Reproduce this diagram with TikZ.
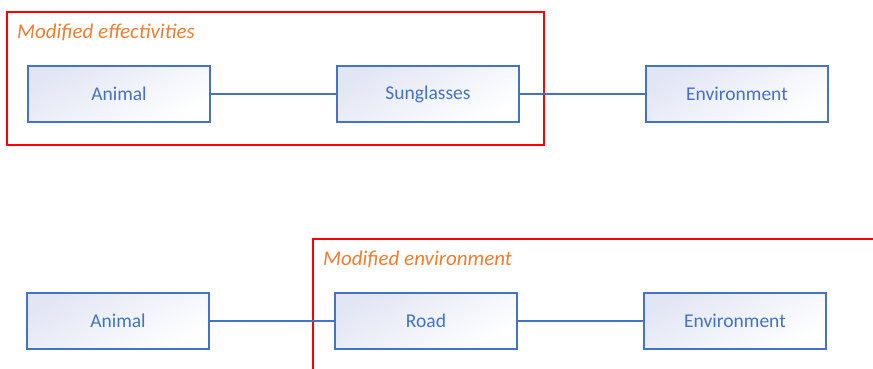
\documentclass[tikz,border=0pt]{standalone}
\usepackage{fontspec}
\setmainfont{Carlito}
\definecolor{mblue}{HTML}{4472C4}
\definecolor{morange}{HTML}{ED7D31}
\definecolor{mshade}{HTML}{E2E6F4}
\begin{document}
\begin{tikzpicture}[x=1pt,y=-1pt,
  box/.style={draw=mblue,line width=1.2pt,minimum width=182pt,minimum height=56pt,
    top color=mshade,bottom color=white,shading angle=30,inner sep=0pt,
    text=mblue,font=\fontsize{19.5}{22}\selectfont},
  conn/.style={draw=mblue,line width=1.2pt},
  frame/.style={draw=red,line width=1.2pt},
  lbl/.style={text=morange,font=\fontsize{21}{24}\selectfont\itshape,anchor=west,inner sep=0pt}]
\useasboundingbox (0,0) rectangle (873,369);
% top
\draw[frame] (7,12) rectangle (544,145);
\node[lbl] (l1) at (17,32) {Modified effectivities};
\node[box] (a1) at (119,94) {Animal};
\node[box] (s1) at (428,94) {Sunglasses};
\node[box] (e1) at (737,94) {Environment};
\draw[conn] (a1) -- (s1);
\draw[conn] (s1) -- (e1);
% bottom
\draw[frame] (873,239) -- (313,239) -- (313,372);
\node[lbl] (l2) at (323,259) {Modified environment};
\node[box] (a2) at (118,321) {Animal};
\node[box] (r2) at (426,321) {Road};
\node[box] (e2) at (735,321) {Environment};
\draw[conn] (a2) -- (r2);
\draw[conn] (r2) -- (e2);
\end{tikzpicture}
\end{document}
